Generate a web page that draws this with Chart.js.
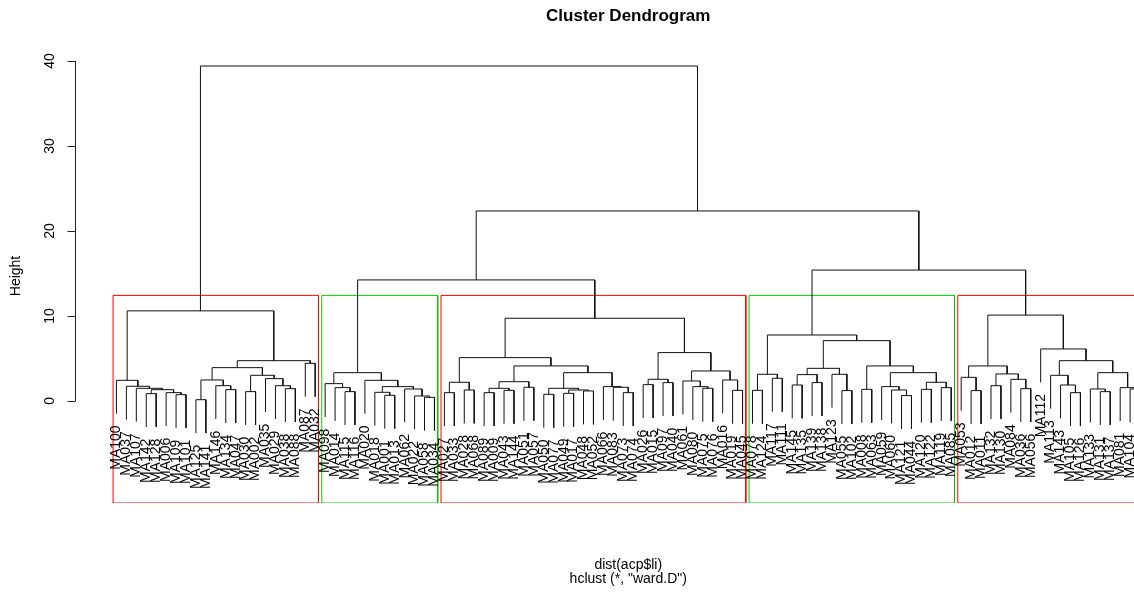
<!DOCTYPE html>
<html>
<head>
<meta charset="utf-8">
<title>Cluster Dendrogram</title>
<script src="https://cdn.jsdelivr.net/npm/chart.js@4.4.1/dist/chart.umd.min.js"></script>
<style>
  html, body { margin: 0; padding: 0; background: #fff; overflow: hidden; }
  canvas { display: block; }
</style>
</head>
<body>
<canvas id="dend" width="1181" height="592"></canvas>
<script>
// each merge is [left, right, height]; leaves are labels, left to right in plot order
const cluster1 = [
  ['MA100', ['MA037', ['MA107', [['MA142', 'MA128', 0.86], ['MA006', ['MA109', 'MA101', 0.74], 0.98], 1.33], 1.49], 1.73], 2.43],
  [[[['MA125', 'MA141', 0.15], ['MA146', ['MA134', 'MA047', 1.33], 1.8], 2.47],
    [['MA030', 'MA002', 1.1], ['MA035', ['MA029', ['MA038', 'MA088', 1.45], 1.8], 2.63], 3.02], 3.92],
   ['MA087', 'MA032', 4.43], 4.74],
  10.6
];
const cluster2 = [
  ['MA098', ['MA014', ['MA115', 'MA116', 1.1], 1.57], 2.04],
  ['MA020', [['MA018', ['MA001', 'MA013', 0.67], 1.02], ['MA062', ['MA022', ['MA058', 'MA034', 0.43], 0.59], 1.41], 1.69], 2.43],
  3.33
];
const cluster3 = [
  [[['MA027', 'MA033', 0.98], ['MA028', 'MA068', 1.29], 2.2],
   [[[['MA089', 'MA009', 0.98], ['MA043', 'MA144', 1.25], 1.49], ['MA051', 'MA057', 1.61], 2.27],
    [[['MA050', 'MA077', 0.78], [['MA049', 'MA017', 0.9], ['MA048', 'MA052', 1.18], 1.29], 1.49],
     ['MA066', ['MA083', ['MA073', 'MA074', 0.98], 1.61], 1.69], 3.33], 4.12], 5.1],
  [[['MA026', 'MA015', 1.92], ['MA097', 'MA040', 2.16], 2.55],
   [['MA061', ['MA080', ['MA075', 'MA076', 1.49], 1.69], 2.35], ['MA016', ['MA019', 'MA045', 1.25], 2.47], 3.53], 5.69],
  9.73
];
const cluster4 = [
  [['MA078', 'MA124', 1.25], ['MA117', 'MA111', 2.67], 3.14],
  [[[['MA145', 'MA135', 1.88], ['MA139', 'MA138', 2.16], 3.1], ['MA123', ['MA055', 'MA102', 1.22], 3.14], 3.84],
   [['MA008', 'MA063', 1.37],
    [['MA059', ['MA060', ['MA121', 'MA044', 0.63], 1.29], 1.69], [['MA120', 'MA122', 1.37], ['MA119', 'MA085', 1.57], 2.2], 3.33], 4.12], 7.1],
  7.76
];
const cluster5 = [
  [['MA053', ['MA012', 'MA011', 1.22], 2.78], [['MA132', 'MA130', 1.8], ['MA084', ['MA036', 'MA056', 1.45], 2.55], 3.18], 4.12],
  ['MA112', [['MA113', ['MA143', ['MA105', 'MA126', 0.98], 1.88], 3.02],
             [['MA133', ['MA131', 'MA137', 1.1], 1.41], ['MA081', ['MA104', 'MA140', 1.41], 1.57], 3.33], 4.74], 6.12],
  10.1
];
const topMerges = [14.24, 15.4, 22.35, 39.4];
const yTicks = [0, 10, 20, 30, 40];
const boxColors = ['#ff0000', '#00cd00'];
const titleText = 'Cluster Dendrogram';
const xLabel = 'dist(acp$li)';
const subLabel = 'hclust (*, "ward.D")';
const yLabel = 'Height';

(function () {
    'use strict';

    const Y_MIN = -12, Y_MAX = 41.4;
    const FONT = '"Liberation Sans", Arial, sans-serif';
    const LINE = '#111';

    const clusters = [cluster1, cluster2, cluster3, cluster4, cluster5];
    const tree = [cluster1, [[cluster2, cluster3, topMerges[0]], [cluster4, cluster5, topMerges[1]], topMerges[2]], topMerges[3]];

    const heights = [];
    (function walk(n) { if (typeof n === 'string') return; heights.push(n[2]); walk(n[0]); walk(n[1]); })(tree);
    const hang = 0.1 * (Math.max(...heights) - Math.min(...heights));

    const leaves = [];
    const merges = [];
    function layout(n) {
        if (typeof n === 'string') { const lf = { x: leaves.length + 1, label: n, leaf: true }; leaves.push(lf); return lf; }
        const a = layout(n[0]), b = layout(n[1]), h = n[2];
        const ya = a.leaf ? (a.bottom = h - hang) : a.h;
        const yb = b.leaf ? (b.bottom = h - hang) : b.h;
        merges.push([{ x: a.x, y: ya }, { x: a.x, y: h }, { x: b.x, y: h }, { x: b.x, y: yb }]);
        return { x: (a.x + b.x) / 2, h: h };
    }
    layout(tree);

    const N = leaves.length;
    const X_MIN = 1 - 0.04 * (N - 1), X_MAX = N + 0.04 * (N - 1);

    function countLeaves(n) { return typeof n === 'string' ? 1 : countLeaves(n[0]) + countLeaves(n[1]); }
    const sorted = heights.slice().sort((p, q) => q - p);
    const k = clusters.length;
    const cutH = (sorted[k - 2] + sorted[k - 1]) / 2;

    const datasets = merges.map(pts => ({
        data: pts, showLine: true, borderColor: LINE, borderWidth: 1, pointRadius: 0, tension: 0
    }));
    let first = 1;
    clusters.forEach((c, i) => {
        const n = countLeaves(c);
        const x0 = first - 0.34, x1 = first + n - 1 + 0.33;
        first += n;
        datasets.push({
            data: [{ x: x0, y: Y_MIN }, { x: x0, y: cutH }, { x: x1, y: cutH }, { x: x1, y: Y_MIN }, { x: x0, y: Y_MIN }],
            showLine: true, borderColor: boxColors[i % 2], borderWidth: 1, pointRadius: 0, tension: 0
        });
    });

    function rotText(ctx, txt, x, y, align) {
        ctx.save();
        ctx.translate(x, y);
        ctx.rotate(-Math.PI / 2);
        ctx.textAlign = align;
        ctx.textBaseline = 'middle';
        ctx.fillText(txt, 0, 0);
        ctx.restore();
    }

    const rBase = {
        id: 'rBase',
        afterDatasetsDraw(chart) {
            const ctx = chart.ctx, xs = chart.scales.x, ys = chart.scales.y, area = chart.chartArea;
            ctx.save();
            ctx.fillStyle = '#000';
            ctx.font = '14px ' + FONT;
            const gap = ctx.measureText('m').width;
            leaves.forEach(lf => {
                rotText(ctx, lf.label, xs.getPixelForValue(lf.x), ys.getPixelForValue(lf.bottom) + gap, 'right');
            });

            // y axis, R style: only spans the tick range
            const ax = Math.round(area.left) - 0.5;
            const y0 = ys.getPixelForValue(yTicks[0]), y1 = ys.getPixelForValue(yTicks[yTicks.length - 1]);
            ctx.strokeStyle = '#222';
            ctx.lineWidth = 1;
            ctx.beginPath();
            ctx.moveTo(ax, y0); ctx.lineTo(ax, y1);
            yTicks.forEach(t => {
                const py = Math.round(ys.getPixelForValue(t)) + 0.5;
                ctx.moveTo(ax - 8, py); ctx.lineTo(ax, py);
            });
            ctx.stroke();
            yTicks.forEach(t => rotText(ctx, String(t), ax - 25, ys.getPixelForValue(t), 'center'));
            rotText(ctx, yLabel, 16, (area.top + area.bottom) / 2, 'center');

            const cx = (xs.getPixelForValue(X_MIN) + xs.getPixelForValue(X_MAX)) / 2;
            ctx.textAlign = 'center';
            ctx.textBaseline = 'middle';
            ctx.fillText(xLabel, cx, 565);
            ctx.fillText(subLabel, cx, 579);
            ctx.font = 'bold 17px ' + FONT;
            ctx.fillText(titleText, cx, 16);
            ctx.restore();
        }
    };

    new Chart(document.getElementById('dend'), {
        type: 'scatter',
        data: { datasets: datasets },
        options: {
            responsive: false,
            animation: false,
            events: [],
            layout: { padding: { left: 75.5, top: 49, right: 0, bottom: 89 } },
            scales: {
                x: { type: 'linear', min: X_MIN, max: X_MAX, display: false },
                y: { type: 'linear', min: Y_MIN, max: Y_MAX, display: false }
            },
            plugins: { legend: { display: false }, tooltip: { enabled: false }, title: { display: false } }
        },
        plugins: [rBase]
    });
})();
</script>
</body>
</html>
